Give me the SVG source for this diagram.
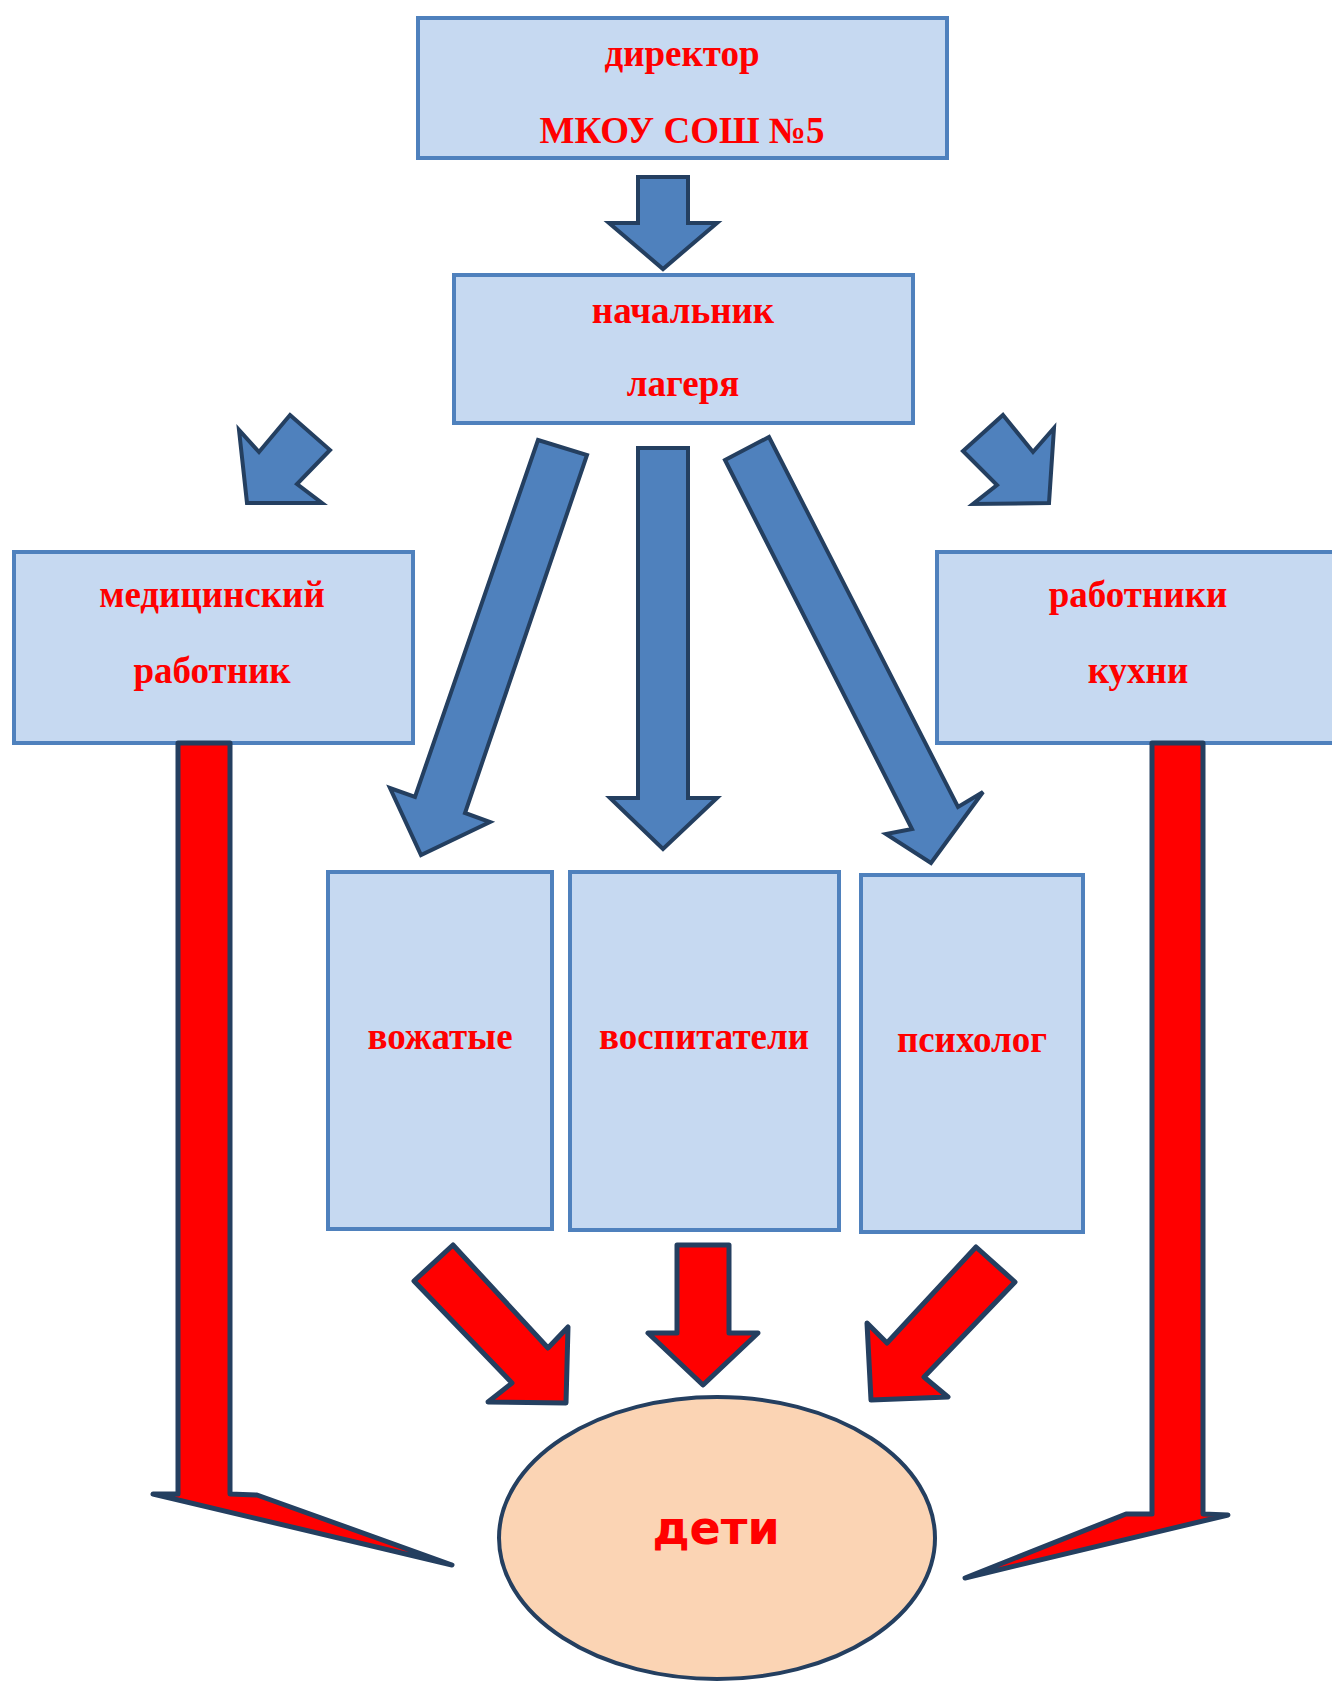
<svg xmlns="http://www.w3.org/2000/svg" width="1332" height="1682" viewBox="0 0 1332 1682">
<style>
.box{fill:#c6d9f1;stroke:#4f81bd;stroke-width:4}
.t{font-family:"Liberation Serif","Times New Roman",serif;font-weight:bold;font-size:37px;fill:#ff0000;text-anchor:middle}
.ba{fill:#4f81bd;stroke:#243f60;stroke-width:4;stroke-linejoin:miter}
.ra{fill:#ff0000;stroke:#243f60;stroke-width:5;stroke-linejoin:round}
</style>
<rect width="1332" height="1682" fill="#ffffff"/>
<g id="director"><rect class="box" x="418" y="18" width="529" height="140"/>
<text class="t" x="682" y="66">директор</text>
<text class="t" x="682" y="143">МКОУ СОШ №5</text></g>
<g id="nachalnik"><rect class="box" x="454" y="275" width="459" height="148"/>
<text class="t" x="683" y="323">начальник</text>
<text class="t" x="683" y="396">лагеря</text></g>
<g id="medic"><rect class="box" x="14" y="552" width="399" height="191"/>
<text class="t" x="212" y="607">медицинский</text>
<text class="t" x="212" y="683">работник</text></g>
<g id="kitchen"><rect class="box" x="937" y="552" width="410" height="191"/>
<text class="t" x="1138" y="607">работники</text>
<text class="t" x="1138" y="683">кухни</text></g>
<g id="vozhatye"><rect class="box" x="328" y="872" width="224" height="357"/>
<text class="t" x="440" y="1049">вожатые</text></g>
<g id="vospitateli"><rect class="box" x="570" y="872" width="269" height="358"/>
<text class="t" x="704" y="1049">воспитатели</text></g>
<g id="psiholog"><rect class="box" x="861" y="875" width="222" height="357"/>
<text class="t" x="972" y="1052">психолог</text></g>
<g id="children"><ellipse cx="717" cy="1538" rx="218" ry="141" fill="#fbd4b4" stroke="#243f60" stroke-width="4"/>
<text x="716" y="1544" font-family="'DejaVu Sans',sans-serif" font-weight="bold" font-size="46" fill="#ff0000" text-anchor="middle">дети</text></g>
<g id="connectors">
<polygon class="ba" points="638,177 688,177 688,223 717,223 663,269 609,223 638,223"/>
<polygon class="ba" points="638,448 688,448 688,798 717,798 663,849 610,798 638,798"/>
<polygon class="ba" points="538,440 587,455 465,813 490,822 421,855 390,788 415,797"/>
<polygon class="ba" points="725,460 769,437 958,807 983,792 931,863 886,834 912,829"/>
<polygon class="ba" points="290,415 330,450 297,484 322,503 247,503 239,430 259,452"/>
<polygon class="ba" points="1003,415 1033,452 1054,428 1049,503 973,504 997,485 963,451"/>
<polygon class="ra" points="453,1245 548,1348 568,1327 566,1403 488,1402 512,1383 414,1281"/>
<polygon class="ra" points="677,1245 729,1245 729,1333 758,1333 703,1385 648,1333 677,1333"/>
<polygon class="ra" points="976,1247 1015,1282 924,1377 948,1397 871,1400 867,1323 887,1343"/>
<polygon class="ra" points="178,743 230,743 230,1494 257,1495 452,1565 153,1494 178,1494"/>
<polygon class="ra" points="1152,743 1203,743 1203,1514 1228,1515 965,1578 1126,1514 1152,1514"/>
</g>
</svg>
